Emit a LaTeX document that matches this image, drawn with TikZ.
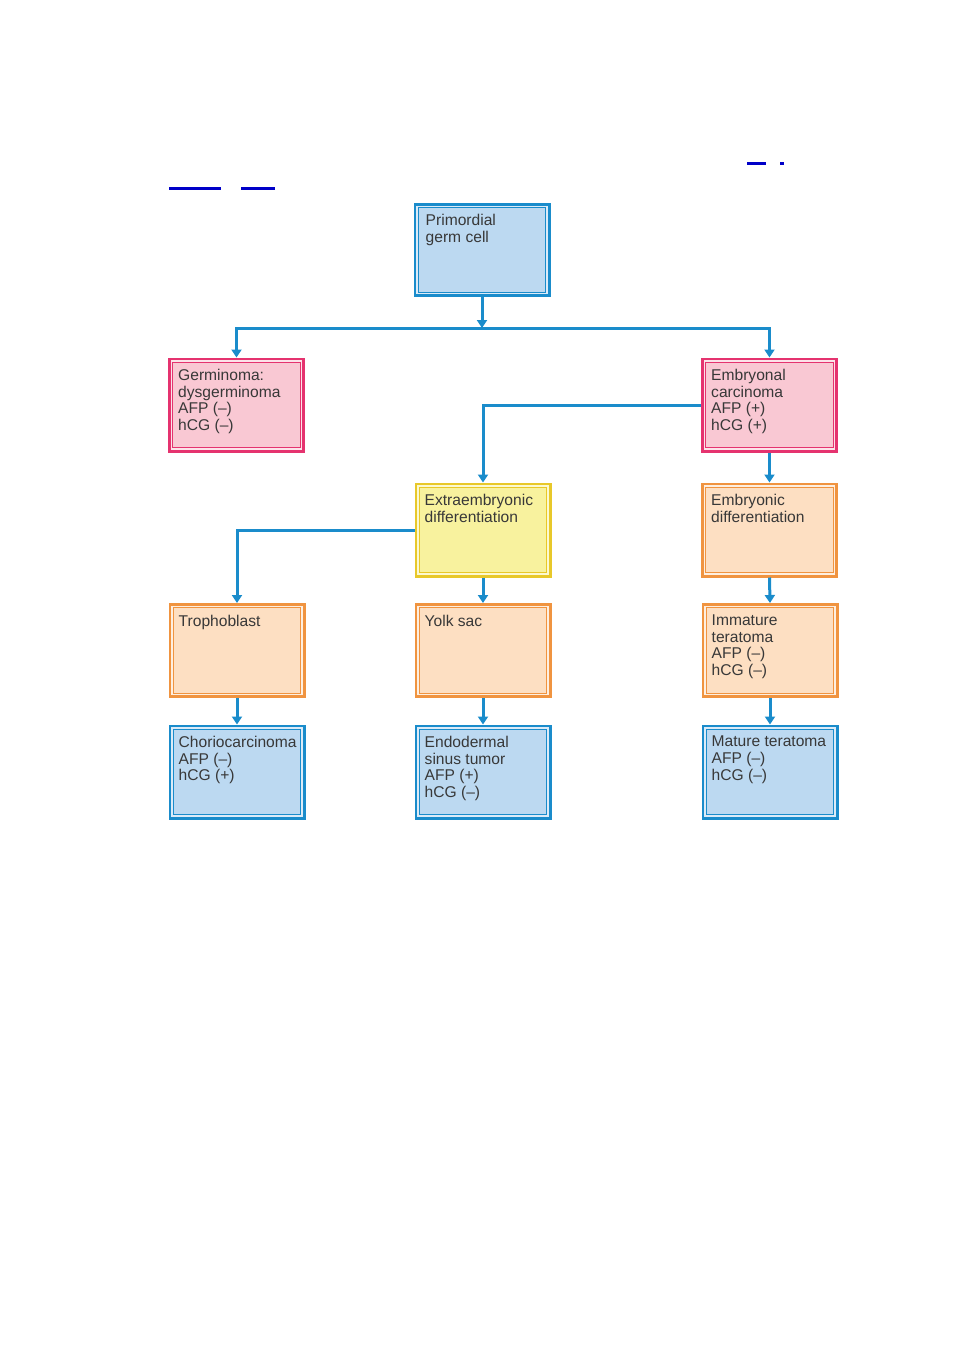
\documentclass[tikz,border=0pt]{standalone}
\usepackage{fontspec}
\setmainfont{Liberation Sans}
\usetikzlibrary{arrows.meta,calc}
\definecolor{bordb}{HTML}{1A8CCB}
\definecolor{fillb}{HTML}{BCD9F1}
\definecolor{gapb}{HTML}{DCEBF8}
\definecolor{bordp}{HTML}{E5336F}
\definecolor{fillp}{HTML}{F9C8D3}
\definecolor{gapp}{HTML}{FCE3E9}
\definecolor{bordy}{HTML}{E8C82A}
\definecolor{filly}{HTML}{F8F29E}
\definecolor{gapy}{HTML}{FCF9D0}
\definecolor{bordo}{HTML}{F09440}
\definecolor{fillo}{HTML}{FDDFC2}
\definecolor{gapo}{HTML}{FEEFE0}
\definecolor{conncol}{HTML}{1A8CCB}
\definecolor{tcol}{HTML}{383838}
\definecolor{linkcol}{HTML}{0000C8}
\begin{document}
\begin{tikzpicture}[x=1pt,y=-1pt,
  box/.style={rectangle, line width=3pt, minimum width=134pt, minimum height=92pt, inner sep=0pt},
  bluebox/.style={box, draw=bordb, fill=fillb},
  pinkbox/.style={box, draw=bordp, fill=fillp},
  yelbox/.style={box, draw=bordy, fill=filly},
  orbox/.style={box, draw=bordo, fill=fillo},
  txt/.style={anchor=north west, inner sep=0pt, align=left, text=tcol, font=\fontsize{15.6}{16.7}\selectfont},
  conn/.style={draw=conncol, line width=3pt},
  tip/.tip={Triangle[length=8pt,width=10pt]},
  linkline/.style={draw=linkcol, line width=2.6pt}
]
\useasboundingbox (0,0) rectangle (954,1350);
% link underlines
\draw[linkline] (169,188.3) -- (221,188.3);
\draw[linkline] (241,188.3) -- (275,188.3);
\draw[linkline] (747,163.3) -- (766,163.3);
\draw[linkline] (780,163.3) -- (784,163.3);
% boxes
\node[bluebox, minimum height=91pt] (pgc) at (482,250) {};
\node[pinkbox] (germ) at (236.5,405) {};
\node[pinkbox] (emb) at (769.5,405) {};
\node[yelbox] (extra) at (483,530) {};
\node[orbox] (embd) at (769.5,530) {};
\node[orbox] (troph) at (237,650.5) {};
\node[orbox] (yolk) at (483,650.5) {};
\node[orbox] (immat) at (770,650.5) {};
\node[bluebox] (chorio) at (237,772) {};
\node[bluebox] (endo) at (483,772) {};
\node[bluebox] (mature) at (770,772) {};
% inner borders
\foreach \n/\c in {pgc/b,germ/p,emb/p,extra/y,embd/o,troph/o,yolk/o,immat/o,chorio/b,endo/b,mature/b}{
  \draw[line width=1.1pt, draw=gap\c] ([shift={(3.5,3.5)}]\n.north west) rectangle ([shift={(-3.5,-3.5)}]\n.south east);
  \draw[line width=1pt, draw=bord\c] ([shift={(4.6,4.6)}]\n.north west) rectangle ([shift={(-4.6,-4.6)}]\n.south east);
}
% texts
\node[txt] (pgc-t) at ([shift={(12,11)}]pgc.north west) {Primordial\\germ cell};
\node[txt] (germ-t) at ([shift={(10,11.5)}]germ.north west) {Germinoma:\\dysgerminoma\\AFP (–)\\hCG (–)};
\node[txt] (emb-t) at ([shift={(10,11.5)}]emb.north west) {Embryonal\\carcinoma\\AFP (+)\\hCG (+)};
\node[txt] (extra-t) at ([shift={(10,11.5)}]extra.north west) {Extraembryonic\\differentiation};
\node[txt] (embd-t) at ([shift={(10,11.5)}]embd.north west) {Embryonic\\differentiation};
\node[txt] (troph-t) at ([shift={(10,11.5)}]troph.north west) {Trophoblast};
\node[txt] (yolk-t) at ([shift={(10,11.5)}]yolk.north west) {Yolk sac};
\node[txt] (immat-t) at ([shift={(10,11.5)}]immat.north west) {Immature\\teratoma\\AFP (–)\\hCG (–)};
\node[txt] (chorio-t) at ([shift={(10,11.5)}]chorio.north west) {Choriocarcinoma\\AFP (–)\\hCG (+)};
\node[txt] (endo-t) at ([shift={(10,11.5)}]endo.north west) {Endodermal\\sinus tumor\\AFP (+)\\hCG (–)};
\node[txt] (mature-t) at ([shift={(10,11.5)}]mature.north west) {Mature teratoma\\AFP (–)\\hCG (–)};
% connectors
\coordinate (bar) at (482,328);
\draw[conn,-tip] (pgc.south) -- (bar);
\draw[conn,tip-tip] (germ.north) |- (bar) -| (emb.north);
\draw[conn,-tip] (emb.west) -| (extra.north);
\draw[conn,-tip] (extra.west) -| (troph.north);
\draw[conn,-tip] (extra.south) -- (yolk.north);
\draw[conn,-tip] (emb.south) -- (embd.north);
\draw[conn,-tip] (embd.south) -- (immat.north);
\draw[conn,-tip] (troph.south) -- (chorio.north);
\draw[conn,-tip] (yolk.south) -- (endo.north);
\draw[conn,-tip] (immat.south) -- (mature.north);
\end{tikzpicture}
\end{document}
